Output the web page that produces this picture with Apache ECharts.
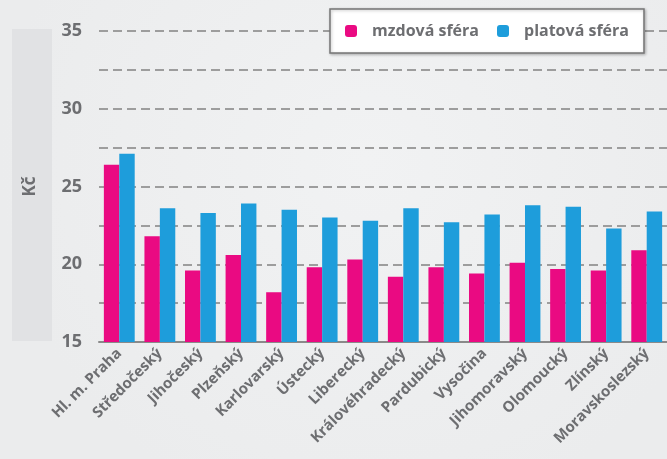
<!DOCTYPE html>
<html>
<head>
<meta charset="utf-8">
<script src="https://cdn.jsdelivr.net/npm/echarts@6/dist/echarts.min.js"></script>
<style>
  html, body { margin: 0; padding: 0; }
  #chart { width: 667px; height: 459px; }
</style>
</head>
<body>
<div id="chart"></div>
<script>
var regions = ['Hl. m. Praha', 'Středočeský', 'Jihočeský', 'Plzeňský', 'Karlovarský', 'Ústecký', 'Liberecký',
  'Královéhradecký', 'Pardubický', 'Vysočina', 'Jihomoravský', 'Olomoucký', 'Zlínský', 'Moravskoslezský'];
var mzdova = [26.4, 21.8, 19.6, 20.6, 18.2, 19.8, 20.3, 19.2, 19.8, 19.4, 20.1, 19.7, 19.6, 20.9];
var platova = [27.1, 23.6, 23.3, 23.9, 23.5, 23.0, 22.8, 23.6, 22.7, 23.2, 23.8, 23.7, 22.3, 23.4];
var yTickLabels = ['15', '20', '25', '30', '35'];

var gray = '#6d6e71';
var font = '"Open Sans", sans-serif';

var myChart = echarts.init(document.getElementById('chart'));

var option = {
  backgroundColor: {
    type: 'radial', x: 0.55, y: 0.35, r: 0.8,
    colorStops: [{offset: 0, color: '#f1f2f3'}, {offset: 1, color: '#ebeced'}]
  },
  animation: false,
  graphic: [{
    type: 'rect',
    shape: {x: 12, y: 29, width: 40, height: 312},
    style: {fill: '#e1e2e4'},
    z: -1
  }],
  legend: {
    data: ['mzdová sféra', 'platová sféra'],
    left: 330,
    top: 9,
    itemWidth: 12,
    itemHeight: 12,
    itemGap: 18,
    padding: [14, 15, 14, 15],
    backgroundColor: '#fff',
    borderColor: '#767676',
    borderWidth: 1.5,
    shadowColor: 'rgba(0,0,0,0.25)',
    shadowBlur: 3,
    shadowOffsetX: 1,
    shadowOffsetY: 1,
    textStyle: {
      color: gray, fontFamily: font, fontWeight: 'bold', fontSize: 16,
      padding: [0, 0, 0, 10]
    }
  },
  grid: {left: 99, right: -8, top: 31, bottom: 117},
  xAxis: {
    type: 'category',
    data: regions,
    axisTick: {show: false},
    axisLine: {lineStyle: {color: '#8a8a8a', width: 2}},
    axisLabel: {
      rotate: 45, margin: 9, interval: 0,
      color: gray, fontFamily: font, fontWeight: 'bold', fontSize: 15
    }
  },
  yAxis: {
    type: 'value',
    min: 15, max: 35, interval: 2.5,
    name: 'Kč',
    nameLocation: 'middle',
    nameGap: 60,
    nameTextStyle: {color: gray, fontFamily: font, fontWeight: 'bold', fontSize: 17},
    axisLine: {show: false},
    axisTick: {show: false},
    axisLabel: {
      margin: 17,
      color: gray, fontFamily: font, fontWeight: 'bold', fontSize: 18,
      formatter: function (v) {
        var s = String(v);
        return yTickLabels.indexOf(s) >= 0 ? s : '';
      }
    },
    splitLine: {lineStyle: {color: '#9d9d9d', width: 2, type: [9, 5]}}
  },
  series: [{
    name: 'mzdová sféra',
    type: 'bar',
    data: mzdova,
    barGap: 0,
    barCategoryGap: '24%',
    itemStyle: {color: '#ea0a82'}
  }, {
    name: 'platová sféra',
    type: 'bar',
    data: platova,
    itemStyle: {color: '#1e9ddb'}
  }]
};
myChart.setOption(option);
</script>
</body>
</html>
